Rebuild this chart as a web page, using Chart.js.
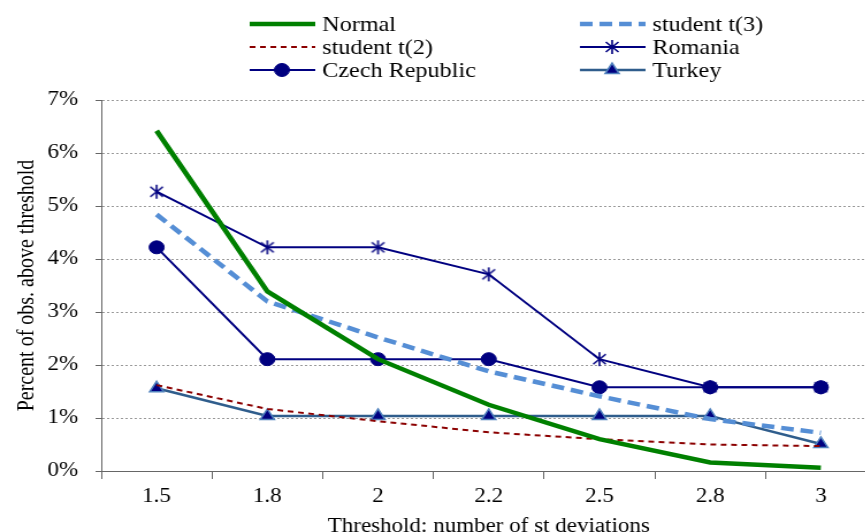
<!DOCTYPE html>
<html>
<head>
<meta charset="utf-8">
<script src="https://cdn.jsdelivr.net/npm/chart.js@4.4.1/dist/chart.umd.min.js"></script>
<style>
  html, body { margin: 0; padding: 0; background: #fff; overflow: hidden; }
  #wrap { width: 865px; height: 532px; overflow: hidden; }
  /* the original picture is stretched sideways, so the canvas is too */
  #chart { width: 885.5px !important; height: 543px !important; display: block; }
</style>
</head>
<body>
<div id="wrap"><canvas id="chart" width="770" height="543"></canvas></div>
<script>
// Data
const thresholds = ['1.5', '1.8', '2', '2.2', '2.5', '2.8', '3'];
const normal    = [6.42, 3.39, 2.11, 1.25, 0.60, 0.16, 0.06];
const studentT3 = [4.84, 3.20, 2.52, 1.88, 1.41, 0.98, 0.72];
const studentT2 = [1.62, 1.17, 0.94, 0.73, 0.60, 0.50, 0.47];
const romania   = [5.27, 4.22, 4.22, 3.71, 2.11, 1.58, 1.58];
const czech     = [4.22, 2.11, 2.11, 2.11, 1.58, 1.58, 1.58];
const turkey    = [1.56, 1.04, 1.04, 1.04, 1.04, 1.04, 0.51];
const yTicks    = [0, 1, 2, 3, 4, 5, 6, 7];

const serif = "'Liberation Serif', 'Times New Roman', serif";

// six-spoke asterisk marker (X with a vertical bar), like Excel's star
function makeAsterisk() {
    const c = document.createElement('canvas');
    c.width = 14; c.height = 16;
    const g = c.getContext('2d');
    g.strokeStyle = '#000080';
    g.lineWidth = 1.6;
    g.beginPath();
    g.moveTo(7, 1); g.lineTo(7, 15);
    g.moveTo(1.5, 3); g.lineTo(12.5, 13);
    g.moveTo(12.5, 3); g.lineTo(1.5, 13);
    g.stroke();
    return c;
}
const asterisk = makeAsterisk();

// Legend drawn in two columns like the original
const twoColLegend = {
    id: 'twoColLegend',
    afterDraw(chart) {
        const ctx = chart.ctx;
        const cols = [217, 504];
        const rows = [24, 47, 70];
        chart.data.datasets.forEach((ds, i) => {
            const x = cols[i % 2];
            const y = rows[Math.floor(i / 2)];
            ctx.save();
            ctx.strokeStyle = ds.borderColor;
            ctx.lineWidth = ds.borderWidth;
            ctx.setLineDash(ds.borderDash || []);
            ctx.beginPath();
            ctx.moveTo(x, y);
            ctx.lineTo(x + 57, y);
            ctx.stroke();
            ctx.setLineDash([]);
            if (ds.pointStyle && ds.pointRadius > 0) {
                ctx.fillStyle = ds.pointBackgroundColor;
                ctx.strokeStyle = ds.pointBorderColor;
                ctx.lineWidth = ds.pointBorderWidth;
                Chart.helpers.drawPoint(ctx, {
                    pointStyle: ds.pointStyle,
                    radius: ds.pointRadius,
                    rotation: 0,
                    borderWidth: ds.pointBorderWidth
                }, x + 28, y);
            }
            ctx.fillStyle = '#000';
            ctx.font = '21px ' + serif;
            ctx.textBaseline = 'middle';
            ctx.fillText(ds.label, x + 63, y + 1);
            ctx.restore();
        });
    }
};

new Chart(document.getElementById('chart'), {
    type: 'line',
    data: {
        labels: thresholds,
        datasets: [
            { label: 'Normal', data: normal, borderColor: '#008000', borderWidth: 4.5,
              pointRadius: 0, pointStyle: false },
            { label: 'student t(3)', data: studentT3, borderColor: '#558ED5', borderWidth: 4.5,
              borderDash: [11, 6], pointRadius: 0, pointStyle: false },
            { label: 'student t(2)', data: studentT2, borderColor: '#8B0000', borderWidth: 2,
              borderDash: [5, 4], pointRadius: 0, pointStyle: false },
            { label: 'Romania', data: romania, borderColor: '#000080', borderWidth: 2,
              pointStyle: asterisk, pointRadius: 7, pointBorderWidth: 1.5,
              pointBackgroundColor: '#000080', pointBorderColor: '#000080' },
            { label: 'Czech Republic', data: czech, borderColor: '#000080', borderWidth: 2,
              pointStyle: 'circle', pointRadius: 6.5, pointBorderWidth: 1,
              pointBackgroundColor: '#000080', pointBorderColor: '#000080' },
            { label: 'Turkey', data: turkey, borderColor: '#2F5D8C', borderWidth: 2.5,
              pointStyle: 'triangle', pointRadius: 7, pointBorderWidth: 1.5,
              pointBackgroundColor: '#000080', pointBorderColor: '#4F81BD' }
        ]
    },
    options: {
        responsive: false,
        animation: false,
        devicePixelRatio: 1,
        layout: { padding: { top: 100, right: 0, left: 12, bottom: 0 } },
        plugins: {
            legend: { display: false },
            tooltip: { enabled: false }
        },
        scales: {
            x: {
                offset: true,
                grid: { offset: true, drawOnChartArea: false, color: '#666', tickLength: 8 },
                border: { color: '#666', width: 1 },
                ticks: { color: '#000', font: { family: serif, size: 20 }, padding: 6 },
                title: { display: true, text: 'Threshold: number of st deviations',
                         color: '#000', font: { family: serif, size: 20 }, padding: { top: 0 } }
            },
            y: {
                min: 0, max: 7,
                afterBuildTicks(scale) { scale.ticks = yTicks.map(v => ({ value: v })); },
                afterFit(scale) { scale.width = 76; },
                grid: { color: '#999', tickColor: '#666', tickLength: 5, tickBorderDash: [] },
                border: { color: '#666', width: 1, dash: [2, 2] },
                ticks: { color: '#000', font: { family: serif, size: 20 }, padding: 15,
                         callback: v => v + '%' },
                title: { display: true, text: 'Percent of obs. above threshold',
                         color: '#000', font: { family: serif, size: 20 }, padding: { top: 0, bottom: 0 } }
            }
        }
    },
    plugins: [twoColLegend]
});
</script>
</body>
</html>
